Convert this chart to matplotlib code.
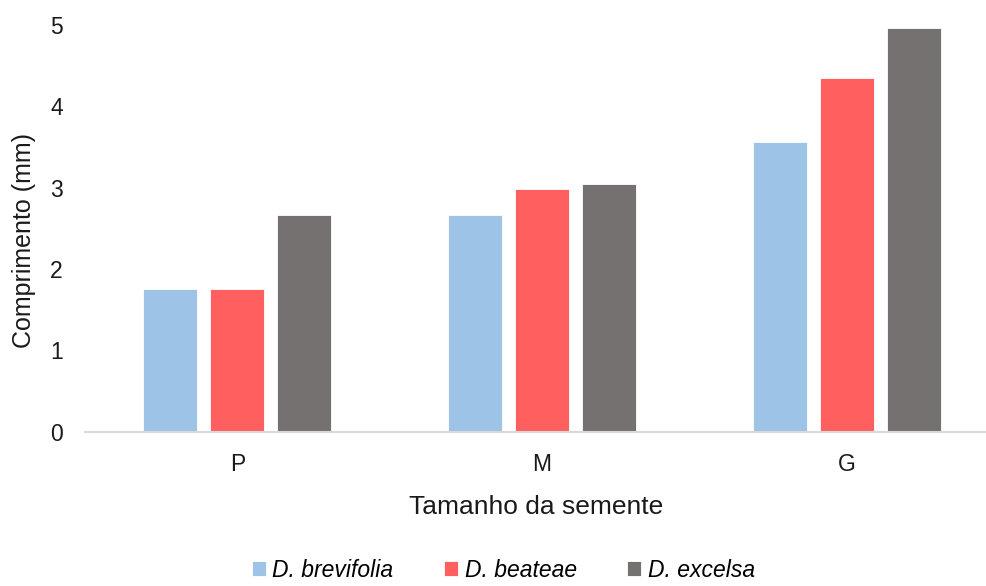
import numpy as np
import matplotlib
matplotlib.use("Agg")
from matplotlib import pyplot as plt

# dados
categorias = ['P', 'M', 'G']
especies = ['D. brevifolia', 'D. beateae', 'D. excelsa']
brevifolia = [1.76, 2.67, 3.56]
beateae = [1.76, 2.99, 4.35]
excelsa = [2.67, 3.04, 4.96]
cores = ['#9DC3E6', '#FF5F5F', '#767171']

plt.rcParams['font.family'] = ['Liberation Sans', 'DejaVu Sans']

fig = plt.figure(figsize=(9.87, 5.86), dpi=100)
ax = fig.add_axes([0.0861, 0.2633, 0.9139, 0.694])

x = np.arange(len(categorias))
largura = 0.177
passo = 0.22
for i, (valores, nome, cor) in enumerate(zip([brevifolia, beateae, excelsa], especies, cores)):
    ax.bar(x + (i - 1) * passo, valores, largura, color=cor, label=nome,
           edgecolor='white', linewidth=0.6)

ax.set_xlim(-0.5, 2.46)
ax.set_ylim(0, 5)
ax.set_yticks(range(6))
ax.set_xticks(x)
ax.set_xticklabels(categorias)
ax.tick_params(length=0, labelsize=16.5, colors='#1a1a1a')
ax.tick_params(axis='x', pad=15)
ax.tick_params(axis='y', pad=16)

for s in ['top', 'right', 'left']:
    ax.spines[s].set_visible(False)
ax.spines['bottom'].set_color('#D9D9D9')
ax.spines['bottom'].set_linewidth(1.5)

ax.set_xlabel('Tamanho da semente', fontsize=19, labelpad=14, color='#1a1a1a')
ax.set_ylabel('Comprimento (mm)', fontsize=18, color='#1a1a1a')
ax.yaxis.set_label_coords(-0.054, 0.47)

leg = fig.legend(loc='lower center', bbox_to_anchor=(0.51, -0.028), ncol=3, frameon=False,
                 prop={'style': 'italic', 'size': 16.5}, handlelength=0.6, handleheight=0.6,
                 handletextpad=0.3, columnspacing=2.2)

fig.savefig('out.png', dpi=100)
